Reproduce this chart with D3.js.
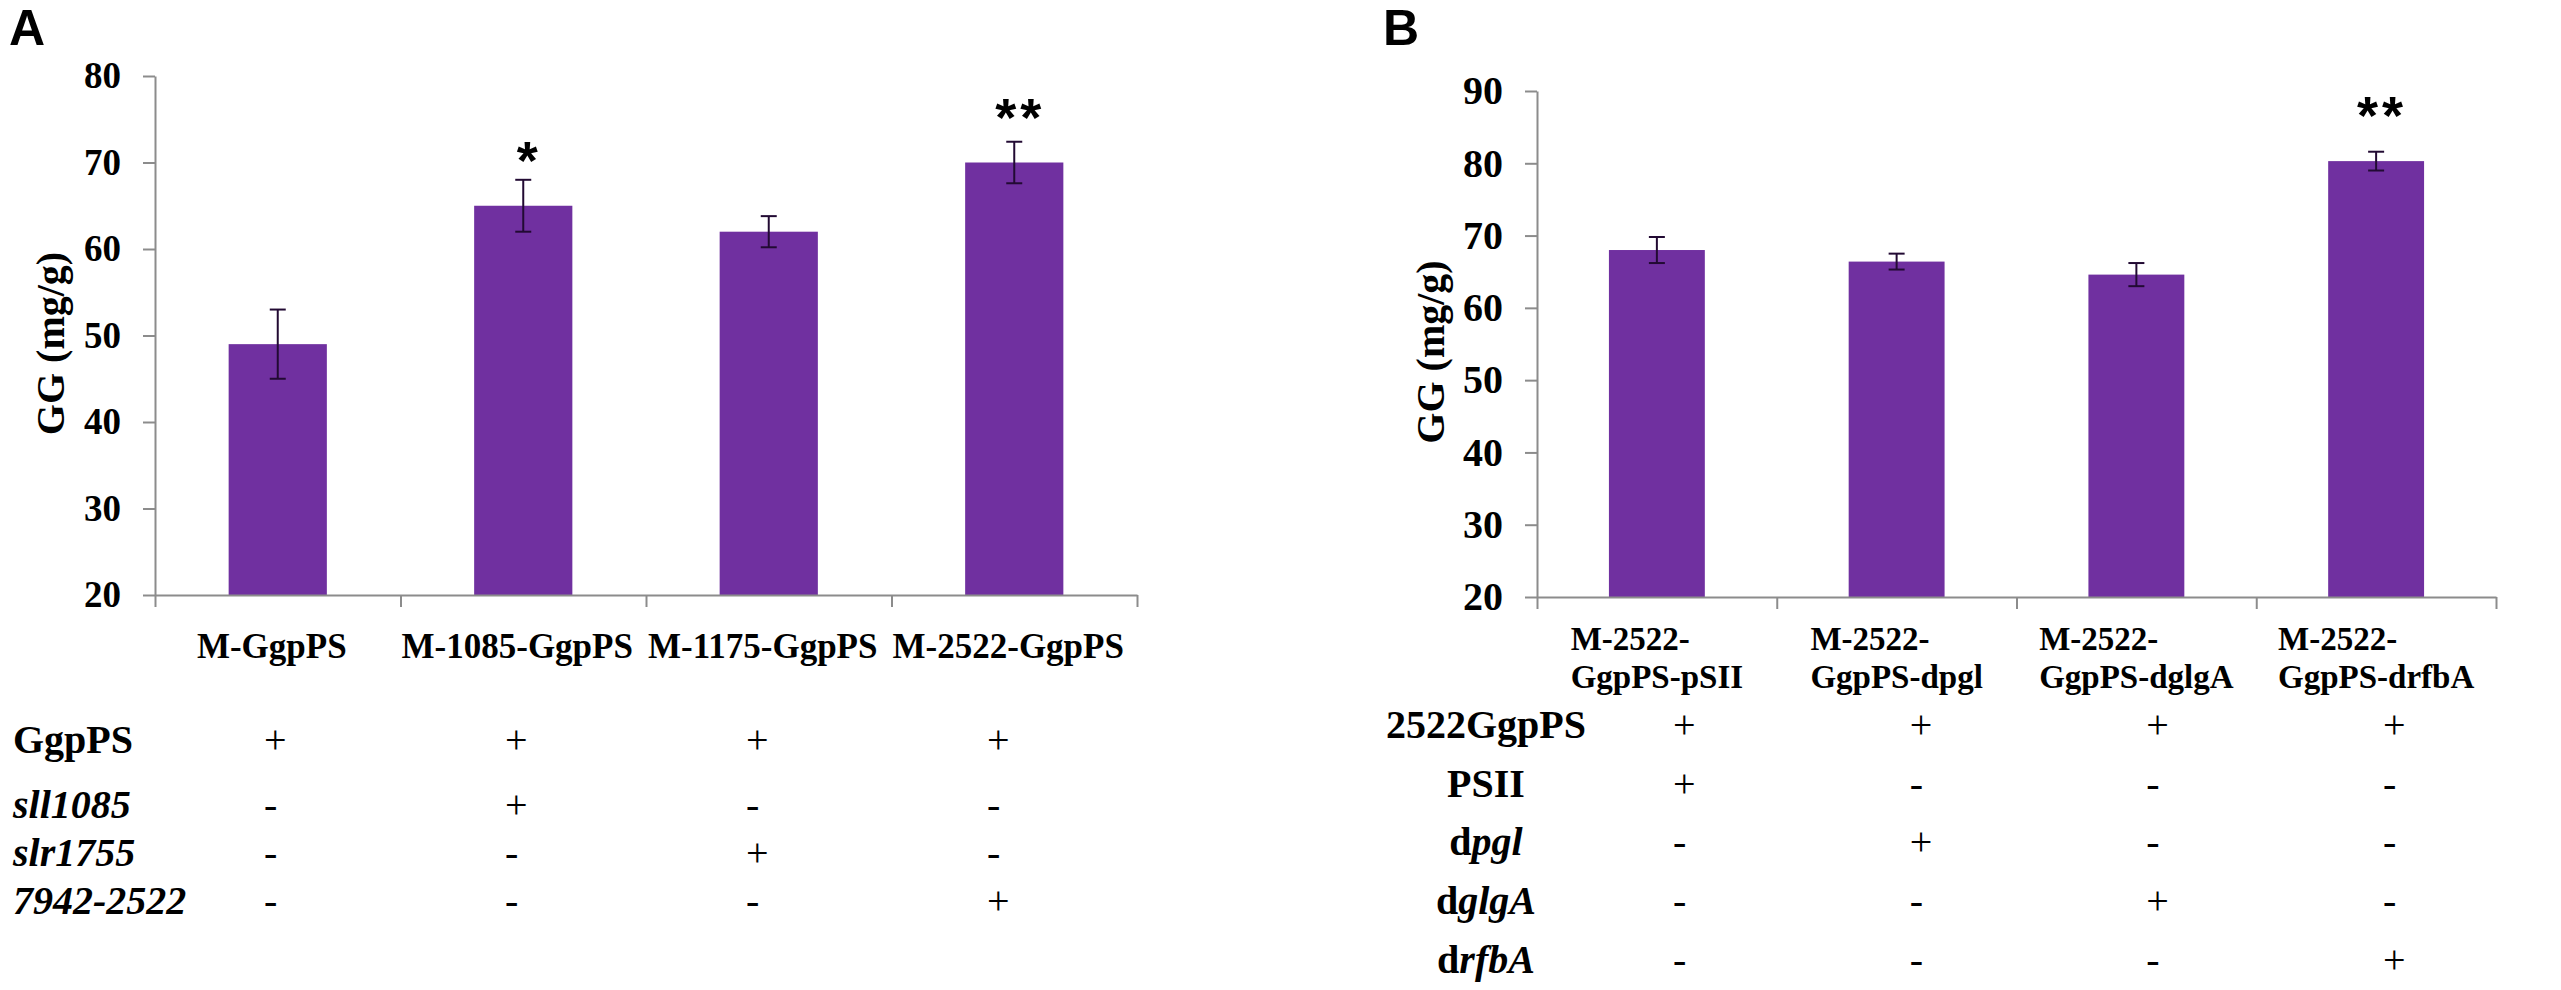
<!DOCTYPE html>
<html>
<head>
<meta charset="utf-8">
<script src="https://cdn.jsdelivr.net/npm/d3@7"></script>
<style>
  body { margin: 0; background: #fff; }
  text { font-family: "Liberation Serif", "Times New Roman", serif; fill: #000; }
</style>
</head>
<body>
<script>
// Panel A data
const catsA = ['M-GgpPS', 'M-1085-GgpPS', 'M-1175-GgpPS', 'M-2522-GgpPS'];
const meanA = [49, 65, 62, 70];
const errA = [4, 3, 1.8, 2.4];
const sigA = ['', '*', '', '**'];
const ticksA = [20, 30, 40, 50, 60, 70, 80];
const rowsA = ['GgpPS', 'sll1085', 'slr1755', '7942-2522'];
const marksA = [
  ['+', '+', '+', '+'],
  ['-', '+', '-', '-'],
  ['-', '-', '+', '-'],
  ['-', '-', '-', '+']
];

// Panel B data
const catsB = ['M-2522-GgpPS-pSII', 'M-2522-GgpPS-dpgl', 'M-2522-GgpPS-dglgA', 'M-2522-GgpPS-drfbA'];
const catLinesB = [
  ['M-2522-', 'GgpPS-pSII'],
  ['M-2522-', 'GgpPS-dpgl'],
  ['M-2522-', 'GgpPS-dglgA'],
  ['M-2522-', 'GgpPS-drfbA']
];
const meanB = [68, 66.4, 64.6, 80.3];
const errB = [1.8, 1.1, 1.6, 1.3];
const sigB = ['', '', '', '**'];
const ticksB = [20, 30, 40, 50, 60, 70, 80, 90];
// [upright part, italic part]
const rowsB = [['2522GgpPS', ''], ['PSII', ''], ['d', 'pgl'], ['d', 'glgA'], ['d', 'rfbA']];
const marksB = [
  ['+', '+', '+', '+'],
  ['+', '-', '-', '-'],
  ['-', '+', '-', '-'],
  ['-', '-', '+', '-'],
  ['-', '-', '-', '+']
];

const width = 2561;
const height = 990;
const barColor = '#7030a0';
const axisColor = '#8c8c8c';

const svg = d3.select('body')
  .append('svg')
  .attr('width', width)
  .attr('height', height);

// draws one bar panel and returns its x scale
function drawPanel(cfg) {
  const x = d3.scaleBand()
    .domain(cfg.cats)
    .range([cfg.left, cfg.right])
    .paddingInner(0.6)
    .paddingOuter(0.3);

  const y = d3.scaleLinear()
    .domain([cfg.ticks[0], cfg.ticks[cfg.ticks.length - 1]])
    .range([cfg.bottom, cfg.top]);

  const g = svg.append('g');

  // bars
  g.selectAll('rect.bar')
    .data(cfg.means)
    .enter()
    .append('rect')
    .attr('class', 'bar')
    .attr('x', (d, i) => x(cfg.cats[i]))
    .attr('y', d => y(d))
    .attr('width', x.bandwidth())
    .attr('height', d => y(cfg.ticks[0]) - y(d))
    .attr('fill', barColor);

  // error bars
  const eb = g.selectAll('g.err')
    .data(cfg.means)
    .enter()
    .append('g')
    .attr('class', 'err')
    .attr('stroke', '#220a33')
    .attr('stroke-width', 2);
  const cx = i => x(cfg.cats[i]) + x.bandwidth() / 2;
  eb.append('line')
    .attr('x1', (d, i) => cx(i)).attr('x2', (d, i) => cx(i))
    .attr('y1', (d, i) => y(d + cfg.errs[i]))
    .attr('y2', (d, i) => y(d - cfg.errs[i]));
  eb.append('line')
    .attr('x1', (d, i) => cx(i) - 8).attr('x2', (d, i) => cx(i) + 8)
    .attr('y1', (d, i) => y(d + cfg.errs[i]))
    .attr('y2', (d, i) => y(d + cfg.errs[i]));
  eb.append('line')
    .attr('x1', (d, i) => cx(i) - 8).attr('x2', (d, i) => cx(i) + 8)
    .attr('y1', (d, i) => y(d - cfg.errs[i]))
    .attr('y2', (d, i) => y(d - cfg.errs[i]));

  // significance stars
  g.selectAll('text.sig')
    .data(cfg.sigs)
    .enter()
    .append('text')
    .attr('class', 'sig')
    .text(d => d)
    .attr('x', (d, i) => cx(i) + 6)
    .attr('y', (d, i) => y(cfg.means[i]) - 27)
    .attr('text-anchor', 'middle')
    .style('font-family', '"Liberation Sans", Arial, sans-serif')
    .style('font-weight', 'bold')
    .style('font-size', '54px')
    .style('letter-spacing', '4px');

  // y axis
  const yAxis = g.append('g')
    .attr('transform', `translate(${cfg.left},0)`)
    .call(d3.axisLeft(y).tickValues(cfg.ticks).tickSize(12).tickPadding(22).tickSizeOuter(0));
  yAxis.selectAll('text')
    .style('font-family', '"Liberation Serif", "Times New Roman", serif')
    .style('font-weight', 'bold')
    .style('font-size', cfg.tickFont + 'px')
    .attr('fill', '#000');

  // x axis with ticks between categories
  const xb = d3.scaleLinear().domain([0, cfg.cats.length]).range([cfg.left, cfg.right]);
  const xAxis = g.append('g')
    .attr('transform', `translate(0,${cfg.bottom})`)
    .call(d3.axisBottom(xb).tickValues(d3.range(cfg.cats.length + 1)).tickSize(12).tickSizeOuter(0).tickFormat(''));

  [yAxis, xAxis].forEach(a => {
    a.select('.domain').attr('stroke', axisColor).attr('stroke-width', 2);
    a.selectAll('.tick line').attr('stroke', axisColor).attr('stroke-width', 2);
  });

  // y axis title
  g.append('text')
    .text('GG (mg/g)')
    .attr('transform', `translate(${cfg.titleX},${(cfg.top + cfg.bottom) / 2 + 8}) rotate(-90)`)
    .attr('text-anchor', 'middle')
    .attr('dy', '0.35em')
    .style('font-weight', 'bold')
    .style('font-size', '40px');

  // panel letter
  svg.append('text')
    .text(cfg.letter)
    .attr('x', cfg.letterX)
    .attr('y', 45)
    .style('font-family', '"Liberation Sans", Arial, sans-serif')
    .style('font-weight', 'bold')
    .style('font-size', '50px');

  return x;
}

// ---------- Panel A ----------
const xA = drawPanel({
  cats: catsA, means: meanA, errs: errA, sigs: sigA, ticks: ticksA,
  left: 155, right: 1137, top: 76, bottom: 595,
  tickFont: 37, titleX: 50, letter: 'A', letterX: 9
});

svg.append('g').selectAll('text')
  .data(catsA)
  .enter()
  .append('text')
  .text(d => d)
  .attr('x', d => xA(d) + xA.bandwidth() / 2 - 6)
  .attr('y', 658)
  .attr('text-anchor', 'middle')
  .style('font-weight', 'bold')
  .style('font-size', '35px');

const rowYA = [753, 818, 866, 914];
const colA = d3.scalePoint().domain(catsA).range([264, 987]);

svg.append('g').selectAll('text')
  .data(rowsA)
  .enter()
  .append('text')
  .text(d => d)
  .attr('x', 13)
  .attr('y', (d, i) => rowYA[i])
  .style('font-weight', 'bold')
  .style('font-style', (d, i) => i === 0 ? 'normal' : 'italic')
  .style('font-size', '40px');

marksA.forEach((row, r) => {
  svg.append('g').selectAll('text')
    .data(row)
    .enter()
    .append('text')
    .text(d => d)
    .attr('x', (d, i) => colA(catsA[i]))
    .attr('y', rowYA[r])
    .style('font-size', '40px');
});

// ---------- Panel B ----------
const xB = drawPanel({
  cats: catsB, means: meanB, errs: errB, sigs: sigB, ticks: ticksB,
  left: 1537, right: 2496, top: 91, bottom: 597,
  tickFont: 40, titleX: 1430, letter: 'B', letterX: 1383
});

// two-line category labels: longer line centred, both lines share its left edge
const catG = svg.append('g');
catLinesB.forEach((lines, i) => {
  const cx = xB(catsB[i]) + xB.bandwidth() / 2;
  const t = catG.append('text')
    .style('font-weight', 'bold')
    .style('font-size', '33px');
  lines.forEach((ln, j) => {
    t.append('tspan').text(ln).attr('y', 650 + j * 38);
  });
  let w = 0;
  t.selectAll('tspan').each(function () { w = Math.max(w, this.getComputedTextLength()); });
  t.selectAll('tspan').attr('x', cx - w / 2);
});

const rowYB = d3.range(rowsB.length).map(i => 738 + i * 58.7);
const colB = d3.scalePoint().domain(catsB).range([1673, 2383]);

svg.append('g').selectAll('text')
  .data(rowsB)
  .enter()
  .append('text')
  .attr('x', 1486)
  .attr('y', (d, i) => rowYB[i])
  .attr('text-anchor', 'middle')
  .style('font-weight', 'bold')
  .style('font-size', '40px')
  .each(function (d) {
    const t = d3.select(this);
    t.append('tspan').text(d[0]);
    if (d[1]) t.append('tspan').text(d[1]).style('font-style', 'italic');
  });

marksB.forEach((row, r) => {
  svg.append('g').selectAll('text')
    .data(row)
    .enter()
    .append('text')
    .text(d => d)
    .attr('x', (d, i) => colB(catsB[i]))
    .attr('y', rowYB[r])
    .style('font-size', '40px');
});
</script>
</body>
</html>
